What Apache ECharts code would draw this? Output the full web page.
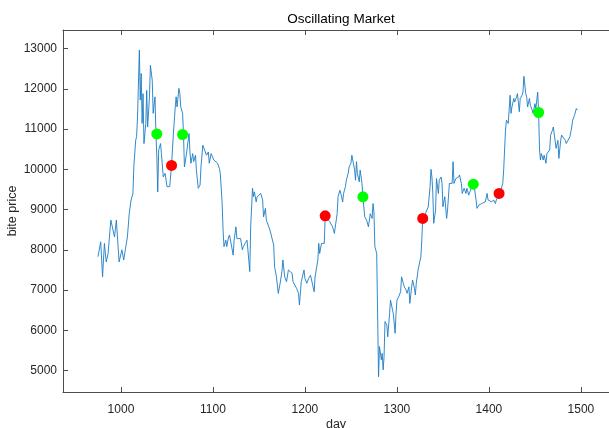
<!DOCTYPE html>
<html>
<head>
<meta charset="utf-8">
<script src="https://cdn.jsdelivr.net/npm/echarts@6/dist/echarts.min.js"></script>
<style>
html,body{margin:0;padding:0;background:#fff;}
#chart{width:609px;height:428px;}
</style>
</head>
<body>
<div id="chart"></div>
<script>
const days = [975,978,980,982,984,986,989,991,993,995,998,1001,1003,1005,1007,1009,1011,1013,1014,1016,1017,1018,1020,1021,1022,1023,1024,1025,1027,1028,1029,1031,1032,1034,1035,1037,1038,1039,1040,1041,1043,1044,1046,1048,1050,1051,1053,1055,1057,1059,1060,1061,1063,1064,1065,1067,1068,1069,1071,1072,1074,1075,1076,1078,1079,1081,1082,1084,1086,1087,1089,1091,1093,1095,1096,1098,1099,1101,1103,1105,1107,1108,1110,1111,1112,1114,1115,1117,1118,1120,1122,1123,1125,1126,1128,1130,1132,1133,1135,1137,1138,1140,1141,1143,1144,1145,1147,1148,1150,1152,1154,1155,1157,1158,1160,1162,1164,1166,1167,1169,1171,1173,1175,1176,1178,1180,1182,1184,1186,1187,1189,1191,1193,1194,1196,1197,1199,1200,1202,1204,1206,1208,1210,1211,1213,1214,1215,1216,1218,1219,1221,1222,1224,1225,1227,1229,1230,1232,1233,1235,1236,1238,1239,1241,1242,1244,1245,1247,1248,1250,1251,1253,1254,1255,1256,1257,1259,1260,1262,1263,1265,1267,1269,1271,1273,1274,1275,1276,1278,1279,1280,1281,1283,1284,1285,1286,1287,1289,1290,1292,1293,1294,1296,1298,1299,1300,1302,1304,1305,1307,1308,1310,1311,1313,1314,1316,1317,1319,1320,1321,1323,1324,1326,1327,1328,1331,1332,1334,1336,1337,1338,1339,1340,1342,1343,1345,1346,1348,1349,1350,1352,1354,1355,1357,1358,1360,1361,1362,1364,1365,1367,1368,1370,1371,1373,1375,1376,1378,1380,1382,1383,1384,1386,1387,1389,1390,1392,1394,1396,1398,1399,1401,1403,1405,1407,1408,1410,1412,1413,1415,1416,1417,1418,1419,1421,1423,1424,1425,1427,1428,1430,1431,1433,1434,1436,1437,1438,1440,1441,1442,1444,1445,1447,1448,1450,1451,1453,1454,1455,1456,1457,1459,1460,1462,1463,1465,1466,1467,1469,1470,1472,1473,1475,1476,1478,1479,1481,1483,1484,1486,1488,1490,1491,1493,1495,1496,1497];
const prices = [7830,8200,7330,8160,7700,7910,8740,8700,8320,8740,7700,8000,7750,8040,8320,8900,9240,9400,10060,10720,10810,11300,12960,11720,12380,11140,11880,10640,11140,11960,11050,11800,12580,12210,11390,11800,10890,10310,9440,10480,10640,10390,9810,9900,9570,9530,9570,10100,10890,11550,11800,11550,12010,11880,11550,11390,10870,10060,10350,10310,10890,10430,10150,10390,10190,10350,9980,9530,9610,10060,10600,10560,10350,10430,10150,10390,10350,10230,10270,10150,10020,9900,9150,8490,8080,8240,8080,8320,8370,8120,7870,8240,8570,8280,8320,8280,8000,8080,8160,8240,8000,7460,8570,9530,9320,9440,9190,9320,9280,9400,9240,8820,9030,8740,8780,8490,8490,8120,7580,7330,6920,7170,7460,7750,7330,7210,7500,7540,7420,7210,7170,7040,6920,6630,7210,7170,7500,7290,7170,7290,7370,7170,6960,7330,7370,7750,8160,7910,8160,8120,8160,8850,8780,8740,8700,8660,8570,8410,8370,8900,9320,9480,9400,9190,9400,9570,9730,9900,10060,10150,10350,10330,9980,9730,10190,9900,9690,9980,9650,9320,8820,8740,8570,8900,8780,9150,8940,8080,7910,7910,4850,5600,5270,5430,5020,5350,6220,6130,5840,6420,6750,6710,6420,5930,6420,6750,6840,6960,7330,7370,7080,7000,6920,7080,6670,7080,7250,7040,6880,7170,7500,7620,7830,8240,8780,8900,8940,9070,9570,10000,9810,9400,8660,8990,9770,9400,9730,9810,9650,9070,9320,8780,8990,9650,9690,9650,10190,9650,9770,9730,9810,9860,9650,9400,9530,9400,9530,9360,9480,9650,9630,9570,9240,9030,9110,9070,9150,9110,9190,9400,9240,9280,9190,9240,9150,9240,9280,9400,9480,9650,9980,10480,10970,11220,11140,11840,11390,11550,11760,11670,11800,11880,11430,11760,11840,11920,12310,11880,11800,11550,11760,11590,11470,11390,11630,11510,11920,11410,10480,10230,10390,10230,10350,10150,10390,10430,10480,10850,10970,11050,11010,10520,10720,10270,10720,10850,10810,10720,10640,10680,10810,11050,11220,11340,11510,11470,11510];

const buyDays = [1039,1067,1263,1383,1454];
const buyPrices = [10880,10865,9317,9632,11411];
const sellDays = [1055,1222,1328,1411];
const sellPrices = [10096,8846,8781,9401];

const xTicks = [1000,1100,1200,1300,1400,1500];
const yTicks = [5000,6000,7000,8000,9000,10000,11000,12000,13000];

const FONT = '"Liberation Sans", Arial, Helvetica, sans-serif';
const AX = '#4d4d4d';
const TXT = '#262626';
const plain = v => String(v);

const chart = echarts.init(document.getElementById('chart'), null, {renderer:'canvas'});
const option = {
  animation:false,
  backgroundColor:'#ffffff',
  title:{
    text:'Oscillating Market',
    left:336, top:7, textAlign:'center',
    textStyle:{fontFamily:FONT, fontSize:13.5, fontWeight:'normal', color:'#000'}
  },
  grid:{left:63, top:30, right:0, bottom:36, containLabel:false, outerBoundsMode:'none'},
  xAxis:[{
    type:'value', min:937, max:1530.5, position:'bottom',
    axisLine:{show:true, onZero:false, lineStyle:{color:AX, width:1}},
    axisTick:{show:true, inside:true, length:5, customValues:xTicks, lineStyle:{color:AX}},
    axisLabel:{show:true, customValues:xTicks, formatter:plain, margin:12, fontSize:12, color:TXT, fontFamily:FONT},
    splitLine:{show:false},
    name:'day', nameLocation:'middle', nameGap:26, nameMoveOverlap:false,
    nameTextStyle:{fontSize:12.5, color:TXT, fontFamily:FONT}
  },{
    type:'value', min:937, max:1530.5, position:'top',
    axisLine:{show:true, onZero:false, lineStyle:{color:AX, width:1}},
    axisTick:{show:true, inside:true, length:5, customValues:xTicks, lineStyle:{color:AX}},
    axisLabel:{show:false},
    splitLine:{show:false}
  }],
  yAxis:[{
    type:'value', min:4470, max:13460, position:'left',
    axisLine:{show:true, onZero:false, lineStyle:{color:AX, width:1}},
    axisTick:{show:true, inside:true, length:5, customValues:yTicks, lineStyle:{color:AX}},
    axisLabel:{show:true, customValues:yTicks, formatter:plain, margin:6, fontSize:12, color:TXT, fontFamily:FONT},
    splitLine:{show:false},
    name:'bite price', nameLocation:'middle', nameGap:44, nameRotate:90, nameMoveOverlap:false,
    nameTextStyle:{fontSize:12.5, color:TXT, fontFamily:FONT}
  }],
  series:[{
    type:'line',
    data: days.map((d,i)=>[d, prices[i]]),
    showSymbol:false, symbol:'none',
    lineStyle:{color:'#1a7cc4', width:0.9},
    z:2
  },{
    type:'scatter',
    data: buyDays.map((d,i)=>[d, buyPrices[i]]),
    symbolSize:11,
    itemStyle:{color:'#00ff00', opacity:1},
    z:3
  },{
    type:'scatter',
    data: sellDays.map((d,i)=>[d, sellPrices[i]]),
    symbolSize:11,
    itemStyle:{color:'#ff0000', opacity:1},
    z:3
  }]
};
chart.setOption(option);
</script>
</body>
</html>
